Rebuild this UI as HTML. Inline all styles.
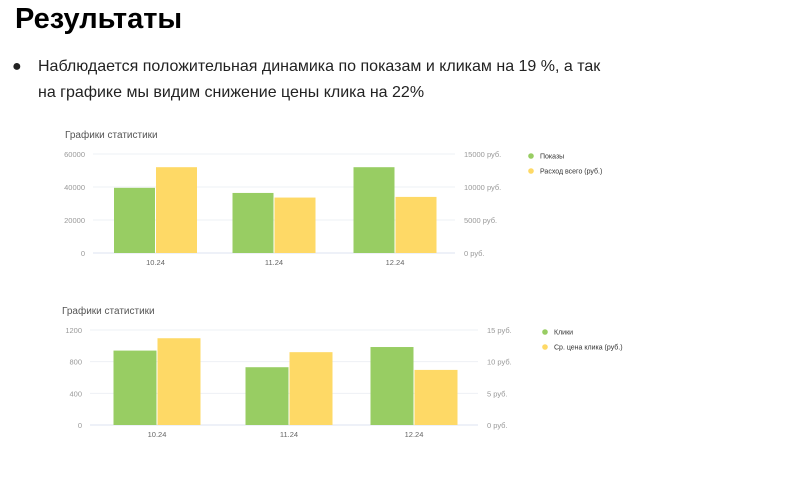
<!DOCTYPE html>
<html><head><meta charset="utf-8">
<style>
html,body{margin:0;padding:0;background:#fff;width:793px;height:497px;overflow:hidden;font-family:"Liberation Sans",sans-serif;}
#title{position:absolute;left:15px;top:3px;font-size:29px;font-weight:bold;color:#000;margin:0;}
#bullet{position:absolute;left:12px;top:54px;font-size:16px;color:#222;line-height:26px;}
#bullet .dot{position:absolute;left:0;top:0;}
#bullet .txt{position:absolute;left:26px;top:0;width:600px;}
svg{position:absolute;left:0;top:0;}
</style></head><body>
<h1 id="title">Результаты</h1>
<div id="bullet"><span class="dot">●</span><span class="txt">Наблюдается положительная динамика по показам и кликам на 19 %, а так<br>на графике мы видим снижение цены клика на 22%</span></div>
<svg id="chart" width="793" height="497"></svg>
<script>
const categories=["10.24","11.24","12.24"];
const impressions=[39500,36400,52000];
const spend=[13000,8400,8500];
const clicks=[940,730,985];
const cpc=[13.7,11.5,8.7];
const leftTicks1=[0,20000,40000,60000];
const rightTicks1=[0,5000,10000,15000];
const leftTicks2=[0,400,800,1200];
const rightTicks2=[0,5,10,15];

const NS="http://www.w3.org/2000/svg";
const svg=document.getElementById('chart');
function mk(tag,attrs,parent){const e=document.createElementNS(NS,tag);for(const k in attrs)e.setAttribute(k,attrs[k]);(parent||svg).appendChild(e);return e;}

function drawChart(cfg){
  const g=mk('g',{});
  
  
  const t=mk('text',{x:cfg.x0-28,y:cfg.titleY,'font-size':10,fill:'#555'},g);t.textContent='Графики статистики';
  
  
  const yl=v=>cfg.bottom-(v/cfg.lmax)*(cfg.bottom-cfg.top);
  const yr=v=>cfg.bottom-(v/cfg.rmax)*(cfg.bottom-cfg.top);
  cfg.lt.forEach((v,i)=>{
    const y=yl(v);
    const ln=mk('line',{x1:cfg.x0,x2:cfg.x1,y1:y,y2:y,stroke:i==0?'#dde3f0':'#eef0f4','stroke-width':1},g);
    
    
    const lt=mk('text',{x:cfg.x0-8,y:y+3,'font-size':7.5,fill:'#999','text-anchor':'end'},g);lt.textContent=v;
    
    
    const rt=mk('text',{x:cfg.x1+9,y:y+3,'font-size':7.5,fill:'#999'},g);rt.textContent=cfg.rt[i]+' руб.';
    
    
  });
  const step=(cfg.x1-cfg.x0)/categories.length;
  categories.forEach((c,i)=>{
    const cx=cfg.centers[i];
    const b1=mk('rect',{x:cx-cfg.bw-0.5,y:yl(cfg.s1[i]),width:cfg.bw,height:cfg.bottom-yl(cfg.s1[i]),fill:'#98cd63'},g);
    
    
    const b2=mk('rect',{x:cx+0.5,y:yr(cfg.s2[i]),width:cfg.bw,height:cfg.bottom-yr(cfg.s2[i]),fill:'#fed966'},g);
    
    
    const xt=mk('text',{x:cx,y:cfg.bottom+12,'font-size':7.5,fill:'#666','text-anchor':'middle'},g);xt.textContent=c;
    
    
  });
  [[cfg.l1,'#98cd63'],[cfg.l2,'#fed966']].forEach((l,i)=>{
    const y=cfg.top+2+i*15;
    const d=mk('circle',{cx:cfg.legX,cy:y,r:2.8,fill:l[1]},g);
    
    
    const lt=mk('text',{x:cfg.legX+9,y:y+2.5,'font-size':7,fill:'#333'},g);lt.textContent=l[0];
    
    
  });
}
drawChart({name:'impressions-chart',x0:93,x1:455,top:154,bottom:253,titleY:138,lmax:60000,rmax:15000,lt:leftTicks1,rt:rightTicks1,s1:impressions,s2:spend,k1:'impressions',k2:'spend',centers:[155.5,274,395],bw:41,l1:'Показы',l2:'Расход всего (руб.)',legX:531});
drawChart({name:'clicks-chart',x0:90,x1:478,top:330,bottom:425,titleY:314,lmax:1200,rmax:15,lt:leftTicks2,rt:rightTicks2,s1:clicks,s2:cpc,k1:'clicks',k2:'cpc',centers:[157,289,414],bw:43,l1:'Клики',l2:'Ср. цена клика (руб.)',legX:545});
</script>
</body></html>
